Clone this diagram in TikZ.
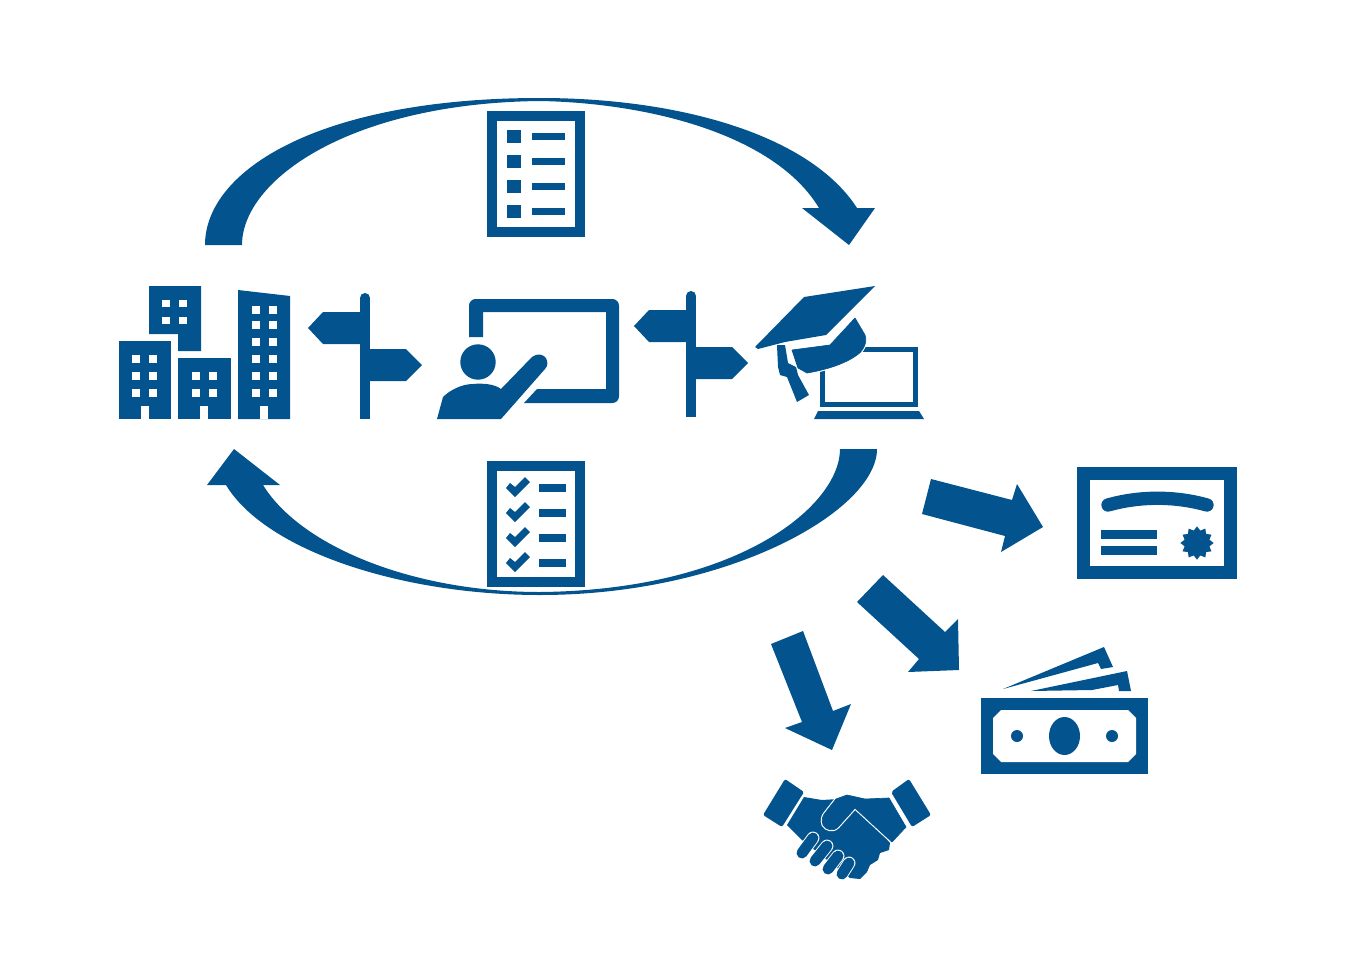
\documentclass[tikz,border=0pt]{standalone}
\usetikzlibrary{shapes.geometric}
\definecolor{navy}{HTML}{03548E}
\tikzset{
  solid part/.style={fill=navy,draw=none},
  hole/.style={fill=white,draw=none},
  cut part/.style={preaction={draw=white,line width=2.2pt},fill=navy,draw=navy,line width=0.5pt,line join=round},
}
\begin{document}
\begin{tikzpicture}[x=0.75pt,y=-0.75pt]
\useasboundingbox (0,0) rectangle (1367,971);
% upper curved arrow
\fill[solid part] (205,245) .. controls (205,170) and (320,98) .. (540,98)
  .. controls (680,98) and (810,135) .. (857,208) -- (875,208) -- (849,245) -- (802,208) -- (819,208)
  .. controls (775,135) and (650,103) .. (540,101)
  .. controls (350,103) and (242,180) .. (242,245) -- cycle;
% lower curved arrow
\fill[solid part] (877,449) .. controls (877,510) and (730,595) .. (540,595)
  .. controls (400,595) and (265,550) .. (226,485) -- (207,485) -- (234,449) -- (280,485) -- (263,485)
  .. controls (300,545) and (410,592) .. (540,592)
  .. controls (740,590) and (840,505) .. (840,449) -- cycle;
% straight arrows
\fill[solid part] (931,479) -- (1012,500) -- (1017,484) -- (1043,527) -- (1001,552) -- (1005,536) -- (922,514) -- cycle;
\fill[solid part] (883,575) -- (945,632) -- (958,619) -- (959,670) -- (908,672) -- (919,659) -- (857,602) -- cycle;
\fill[solid part] (803,631) -- (833,711) -- (851,704) -- (832,750) -- (785,728) -- (802,722) -- (771,644) -- cycle;
% plain list
\fill[solid part] (487,111) rectangle (585,237);
\fill[hole] (497,121) rectangle (575,227);
\foreach \i in {0,1,2,3} {
  \fill[solid part] (507,130+25*\i) rectangle (521,143+25*\i);
  \fill[solid part] (532,133+25*\i) rectangle (565,140+25*\i);
}
% ticked list
\fill[solid part] (487,461) rectangle (585,587);
\fill[hole] (497,471) rectangle (575,577);
\foreach \i in {0,1,2,3} {
  \fill[solid part] (506,488+25*\i) -- (515,497+25*\i) -- (530,482+25*\i) -- (525,477+25*\i) -- (515,487+25*\i) -- (510,483+25*\i) -- cycle;
  \fill[solid part] (539,484+25*\i) rectangle (566,492+25*\i);
}
% buildings
\fill[solid part] (119,341) rectangle (171,419);
\fill[solid part] (149,286) -- (201,286) -- (201,351) -- (178,351) -- (178,334) -- (149,334) -- cycle;
\fill[solid part] (178,358) rectangle (231,419);
\fill[solid part] (238,290) -- (290,296) -- (290,419) -- (238,419) -- cycle;
\foreach \wx in {132,149} \foreach \wy in {355,372,389} {\fill[hole] (\wx,\wy) rectangle +(8,8);}
\foreach \wx in {162,179} \foreach \wy in {300,317} {\fill[hole] (\wx,\wy) rectangle +(8,7);}
\foreach \wx in {192,209} \foreach \wy in {372,389} {\fill[hole] (\wx,\wy) rectangle +(8,8);}
\foreach \wx in {252,269} \foreach \wy in {306,321,338,355,372,389} {\fill[hole] (\wx,\wy) rectangle +(8,8);}
\foreach \dx in {141,200,260} {\fill[hole] (\dx,406) rectangle +(8,13);}
% signposts
\foreach \sx/\sy in {0/0,326/-2} {
\begin{scope}[shift={(\sx,\sy)}]
\fill[solid part] (360,298) rectangle (370,419);
\fill[solid part] (365,298) circle (5);
\fill[solid part] (360,312) -- (323,312) -- (308,328) -- (323,344) -- (360,344) -- cycle;
\fill[solid part] (370,349) -- (406,349) -- (422,365) -- (406,381) -- (370,381) -- cycle;
\end{scope}
}
% teacher at board
\fill[solid part] (469,337) [rounded corners=5pt] -- (469,299) -- (619,299) -- (619,403) [sharp corners] -- (524,403) -- (537,389) -- (606,389) -- (606,312) -- (483,312) -- (483,337) -- cycle;
\fill[solid part] (478,362) circle (17.7);
\fill[solid part] (437,419) -- (443,397) .. controls (450,390) and (462,384) .. (473,384) .. controls (482,383) and (495,384) .. (501,389)
  -- (532,357) .. controls (537,353) and (543,354) .. (546,358) .. controls (548,362) and (548,366) .. (545,369) -- (501,419) -- cycle;
% laptop and cap
\fill[solid part] (820,347) rectangle (918,407);
\fill[hole] (825,352) rectangle (913,402);
\fill[solid part] (814,419) -- (818,411) -- (919,411) -- (924,419) -- cycle;
\path[cut part] (792,350) -- (830,345) -- (855,318) -- (865,335) .. controls (868,343) and (862,352) .. (857,355) .. controls (845,364) and (825,370) .. (807,373) -- (798,368) -- cycle;
\fill[solid part] (777,345) -- (778,367) -- (780,375) -- (787,377) -- (797,402) -- (809,395) -- (798,375) -- (796,367) -- (788,363) -- (785,345) -- cycle;
\fill[solid part] (755,347) -- (804,297) -- (875,286) -- (826,335) -- (785,342) -- (758,349) -- cycle;
% certificate
\fill[solid part] (1077,467) rectangle (1237,579);
\fill[hole] (1090,480) rectangle (1224,566);
\draw[navy,line width=10pt,line cap=round] (1108,505) .. controls (1140,496) and (1175,496) .. (1207,505);
\fill[solid part] (1101,530) rectangle (1157,539);
\fill[solid part] (1101,546) rectangle (1157,555);
\node[star,star points=12,star point ratio=1.3,solid part,minimum size=25pt,inner sep=0pt] (seal) at (1197,543) {};
% banknotes
\fill[solid part] (1003,689) -- (1104,647) -- (1113,667) -- (1101,669) -- (1098,663) -- cycle;
\fill[solid part] (1031,691) -- (1127,671) -- (1131,691) -- (1119,691) -- (1118,685) -- (1092,690) -- cycle;
\fill[solid part] (981,698) rectangle (1148,774);
\fill[hole] (1001,710) -- (1128,710) -- (1136,718) -- (1136,754) -- (1128,762) -- (1001,762) -- (993,754) -- (993,718) -- cycle;
\fill[solid part] (1064.5,736) ellipse (15.5 and 19);
\fill[solid part] (1017,736) circle (6);
\fill[solid part] (1112,736) circle (6);
% handshake
\fill[solid part,rounded corners=1.5pt] (763,815) -- (785,779) -- (804,792) -- (782,827) -- cycle;
\fill[solid part,rounded corners=1.5pt] (891,792) -- (909,779) -- (931,815) -- (912,827) -- cycle;
\fill[solid part] (787,825) -- (804,797) -- (822,800) -- (838,799) -- (860,808) -- (890,843) -- (889,850) -- (880,853) -- (878,860) -- (870,865) -- (867,872) -- (860,879) -- (850,878) -- (802,840) -- cycle;
\foreach \ax/\ay/\bx/\by in {802/853/813/838,815/861/827/846,828/869/838/856,842/874/849/863} {
  \draw[white,line width=9.6pt,line cap=round] (\ax,\ay) -- (\bx,\by);
  \draw[navy,line width=8.2pt,line cap=round] (\ax,\ay) -- (\bx,\by);
}
\path[cut part] (836,799) -- (847,795) -- (865,799) -- (889,798) -- (906,827) -- (892,842) -- (855,808) -- (838,827) .. controls (833,832) and (826,830) .. (823,825) .. controls (821,820) and (823,815) .. (825,813) -- cycle;
\end{tikzpicture}
\end{document}
